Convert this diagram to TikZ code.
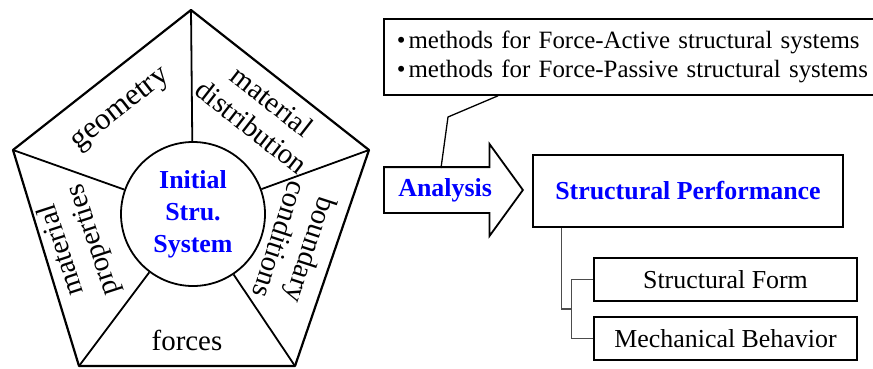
\documentclass[tikz,border=0pt]{standalone}
\usepackage{fontspec}
\setmainfont{Liberation Serif}
\usetikzlibrary{shapes.arrows,calc}

\begin{document}
\begin{tikzpicture}[
    x=1bp,y=1bp,line width=1.8bp,
    lbl/.style={font=\fontsize{29}{33}\selectfont,align=center},
    hot/.style={font=\fontsize{26}{32}\selectfont\bfseries,text=blue,align=center},
    box/.style={draw,font=\fontsize{26}{30}\selectfont},
    tree/.style={line width=1.2bp,gray!60!black}
    ]
    \useasboundingbox (0,0) rectangle (873,368);
    \coordinate (T) at (191,358);
    \coordinate (UR) at (369,218);
    \coordinate (BR) at (295,2);
    \coordinate (BL) at (79,2);
    \coordinate (UL) at (13,218);
    \draw[line width=2.2bp,line join=round] (T) -- (UR) -- (BR) -- (BL) -- (UL) -- cycle;
    \node[hot,draw,circle,minimum size=144bp,inner sep=0pt] (core) at (193,154) {Initial\\Stru.\\System};
    \foreach \v in {T,UR,BR,BL,UL} \draw (\v) -- (core);
    \node[lbl,rotate=38,font=\fontsize{31}{33}\selectfont] (geo) at (121,258) {geometry};
    \node[lbl,rotate=-38] (dist) at (262,254) {material\\distribution};
    \node[lbl,rotate=-108] (bound) at (296,123) {boundary\\conditions};
    \node[lbl,rotate=108] (prop) at (78,123) {material\\properties};
    \node[lbl] (forc) at (187,28) {forces};

    \node[box,anchor=north west,minimum height=76bp,inner xsep=13bp,
      text width=480bp,align=left,font=\fontsize{25}{29}\selectfont] (methods) at (383,350)
      {\textbullet\kern3bp methods for Force-Active structural systems\\
       \textbullet\kern3bp methods for Force-Passive structural systems};
    \node[single arrow,draw,hot,anchor=tail,minimum height=139bp,single arrow head extend=23bp,
      single arrow tip angle=108,inner ysep=10bp,text height=18bp,text depth=6bp] (analysis) at (383,178) {Analysis};
    \coordinate (elbow) at (448,251);
    \coordinate (foot) at (441,200);
    \draw[line width=1.3bp] ($(methods.south west)+(115,0)$) -- (elbow) -- (foot);

    \node[box,hot,minimum width=310bp,minimum height=72bp] (perf) at (688,177) {Structural Performance};
    \node[box,minimum width=263bp,minimum height=43bp] (form) at (725.5,88.5) {Structural Form};
    \node[box,minimum width=263bp,minimum height=43bp] (mech) at (725.5,29.5) {Mechanical Behavior};
    \coordinate (join) at (572,59);
    \draw[tree] ($(perf.south west)+(29,0)$) |- (join);
    \draw[tree] (form.west) -- ++(-22,0) |- (mech.west);
\end{tikzpicture}
\end{document}
